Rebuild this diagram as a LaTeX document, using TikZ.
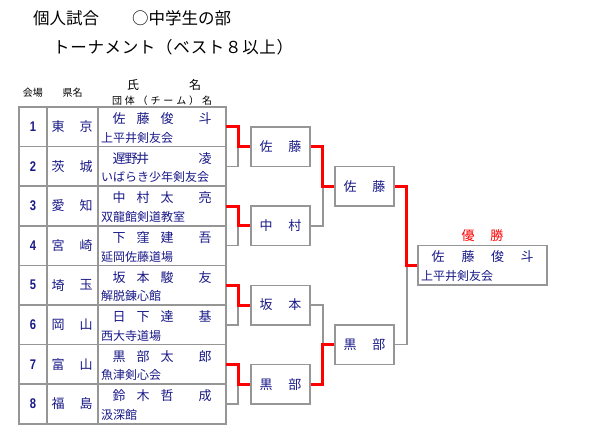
\documentclass[tikz,border=0pt]{standalone}
\usepackage{fontspec}
\setmainfont{Noto Sans CJK JP}
\newfontfamily\numfont{Liberation Sans}
\usetikzlibrary{calc}
\definecolor{ink}{RGB}{25,25,135}
\definecolor{frame}{RGB}{150,150,150}
\definecolor{winred}{RGB}{255,0,0}
\begin{document}
\begin{tikzpicture}[x=1pt,y=-1pt,
  lose/.style={draw=frame,line width=1.5pt},
  win/.style={draw=winred,line width=3pt},
  grid/.style={draw=frame,line width=1.5pt},
  rbox/.style={draw=frame,line width=1.5pt,minimum width=59pt,minimum height=39.5pt,inner sep=0pt,
     font=\fontsize{13}{13}\selectfont,text=ink},
  titlef/.style={font=\fontsize{16.5}{16.5}\selectfont,anchor=west,inner sep=0pt},
  headf/.style={font=\fontsize{10}{10}\selectfont,inner sep=0pt},
  headbig/.style={font=\fontsize{12}{12}\selectfont,inner sep=0pt},
  chr/.style={font=\fontsize{13}{13}\selectfont,text=ink,inner sep=0pt},
  teamf/.style={font=\fontsize{12}{12}\selectfont,text=ink,inner sep=0pt,anchor=west},
  numf/.style={font=\numfont\bfseries\fontsize{14}{14}\selectfont,text=ink,inner sep=0pt},
  redf/.style={font=\fontsize{13}{13}\selectfont,text=winred,inner sep=0pt}]
\useasboundingbox (0,0) rectangle (600,440);

% titles
\node[titlef] (t1) at (33,18) {個人試合　　○中学生の部};
\node[titlef] (t2) at (53,47) {\addfontfeature{LetterSpace=4}トーナメント（ベスト８以上）};

% header
\node[headf] (h1) at (33,93) {会場};
\node[headf] (h2) at (72.5,93) {県名};
\node[headbig] (h3) at (133,85) {氏};
\node[headbig] (h4) at (195,85) {名};
\node[headf] (h5) at (162,101) {\hbox to 100pt{団\hfill 体\hfill （\hfill チ\hfill ー\hfill ム\hfill ）\hfill 名}};

% table grid
\draw[grid] (19,107) rectangle (226,424);
\draw[grid] (47,107) -- (47,424);
\draw[grid] (98,107) -- (98,424);
\foreach \k in {1,...,7}{
  \draw[grid] (19,107+\k*39.6) -- (226,107+\k*39.6);
}

% rows
\foreach \i/\pa/\pb/\na/\nb/\nc/\nd/\team/\alt in {
  1/東/京/佐/藤/俊/斗/上平井剣友会/0,
  2/茨/城/遅/野/井/凌/いばらき少年剣友会/1,
  3/愛/知/中/村/太/亮/双龍館剣道教室/0,
  4/宮/崎/下/窪/建/吾/延岡佐藤道場/0,
  5/埼/玉/坂/本/駿/友/解脱錬心館/0,
  6/岡/山/日/下/達/基/西大寺道場/0,
  7/富/山/黒/部/太/郎/魚津剣心会/0,
  8/福/島/鈴/木/哲/成/汲深館/0}{
  \pgfmathsetmacro\c{107+(\i-0.5)*39.6}
  \pgfmathsetmacro\xb{\alt==1 ? 131 : 143}
  \pgfmathsetmacro\xc{\alt==1 ? 142.5 : 167}
  \node[numf] (num\i) at (33,\c) {\scalebox{0.8}[1]{\i}};
  \node[chr] (pa\i) at (58,\c) {\pa};
  \node[chr] (pb\i) at (86,\c) {\pb};
  \node[chr] (na\i) at (119,\c-8) {\na};
  \node[chr] (nb\i) at (\xb,\c-8) {\nb};
  \node[chr] (nc\i) at (\xc,\c-8) {\nc};
  \node[chr] (nd\i) at (205,\c-8) {\nd};
  \node[teamf] (tm\i) at (101,\c+11) {\team};
  \coordinate (r\i) at (226,\c);
}

% round 2 boxes
\node[rbox] (b1) at (280.5,146.6) {佐\hspace{16pt}藤};
\node[rbox] (b2) at (280.5,225.8) {中\hspace{16pt}村};
\node[rbox] (b3) at (280.5,305.0) {坂\hspace{16pt}本};
\node[rbox] (b4) at (280.5,384.2) {黒\hspace{16pt}部};
% round 3 boxes
\node[rbox] (c1) at (364.5,186.2) {佐\hspace{16pt}藤};
\node[rbox] (c2) at (364.5,344.6) {黒\hspace{16pt}部};
% final box
\node[rbox,minimum width=129pt] (fb) at (482.5,265.4) {};
\node[chr] (f1) at (438,257) {佐};
\node[chr] (f2) at (468,257) {藤};
\node[chr] (f3) at (497.5,257) {俊};
\node[chr] (f4) at (527,257) {斗};
\node[teamf] (ft) at (421,276) {上平井剣友会};
\node[redf] (yu) at (482.5,236) {優\hspace{16pt}勝};

% round 1 connectors (losers first)
\draw[lose] (r2) -- ++(12,0) |- (b1.west);
\draw[lose] (r4) -- ++(12,0) |- (b2.west);
\draw[lose] (r6) -- ++(12,0) |- (b3.west);
\draw[lose] (r8) -- ++(12,0) |- (b4.west);
\draw[win] (r1) -- ++(12,0) |- (b1.west);
\draw[win] (r3) -- ++(12,0) |- (b2.west);
\draw[win] (r5) -- ++(12,0) |- (b3.west);
\draw[win] (r7) -- ++(12,0) |- (b4.west);

% round 2 connectors
\draw[lose] (b2.east) -- ++(12,0) |- (c1.west);
\draw[lose] (b3.east) -- ++(12,0) |- (c2.west);
\draw[win] (b1.east) -- ++(12,0) |- (c1.west);
\draw[win] (b4.east) -- ++(12,0) |- (c2.west);

% final connectors
\draw[lose] (c2.east) -- ++(12,0) |- (fb.west);
\draw[win] (c1.east) -- ++(12,0) |- (fb.west);
\end{tikzpicture}
\end{document}
